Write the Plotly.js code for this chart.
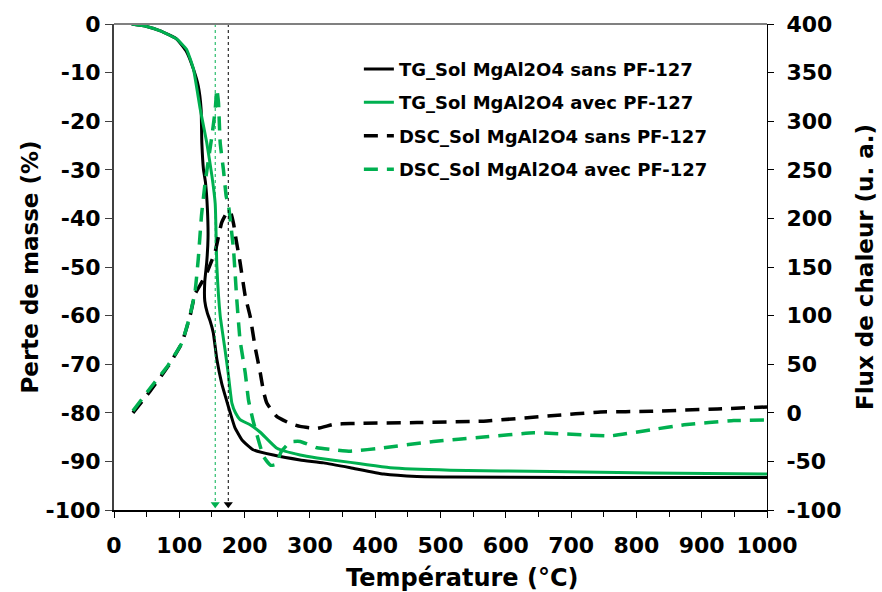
<!DOCTYPE html>
<html>
<head>
<meta charset="utf-8">
<script src="https://cdn.plot.ly/plotly-3.0.1.min.js"></script>
<style>html,body{margin:0;padding:0;background:#fff;}#chart{width:882px;height:592px;}</style>
</head>
<body>
<div id="chart"></div>
<script>
// TG sans PF-127 (left axis, %)
const tgSansT = [27, 50, 71, 96, 111.5, 121.7, 129, 133.4, 134.5, 137, 140, 143, 144, 142, 139, 139, 143, 147, 152, 157.5, 165, 172, 178, 185, 196, 213, 244, 285, 321, 362, 413, 464, 515, 700, 1000];
const tgSansY = [0, -0.5, -1.4, -3.1, -5.8, -9.3, -12.7, -17.5, -24.4, -29.9, -32.5, -38, -44, -49, -53, -57, -59.5, -61, -63.5, -69, -74, -77.3, -80, -83, -85.6, -87.6, -88.7, -89.7, -90.3, -91.3, -92.6, -93.1, -93.2, -93.3, -93.3];
// TG avec PF-127 (left axis, %)
const tgAvecT = [27, 50, 71, 96, 111, 121.7, 132, 142, 150, 155, 157.5, 162.6, 170, 175, 180.5, 186, 193, 209, 224, 249.5, 285, 311, 362, 387.5, 423, 515, 669, 822, 1000];
const tgAvecY = [0, -0.5, -1.4, -3.1, -5.2, -9.3, -17.5, -24.4, -31.3, -37, -49.8, -60, -67, -72, -78, -80, -81.4, -82.5, -84, -87.3, -88.7, -89.3, -90.2, -90.7, -91.3, -91.8, -92.1, -92.4, -92.6];
// DSC sans PF-127 (right axis, u. a.)
const dscSansT = [29, 55, 83, 104, 116.6, 124, 135, 144, 155, 165, 172, 178, 183, 187, 193, 201, 208.6, 216, 224, 229, 234, 249.5, 270, 285, 311, 336, 362, 464, 566, 669, 745, 822, 924, 1000];
const dscSansY = [0, 22, 48, 72, 100, 122, 135, 147, 166, 196, 205, 207, 195, 178, 155, 120, 99, 68, 41, 22, 10, -4, -11, -14, -16, -12, -11, -10, -8.6, -3, 0.8, 1.5, 4, 6];
// DSC avec PF-127 (right axis, u. a.)
const dscAvecT = [29, 55, 83, 104, 116.6, 124, 129, 134, 139.6, 150, 155, 157.5, 160, 162.6, 167.6, 172, 175, 183, 188, 193, 201, 206, 213.7, 229, 240, 248, 256, 270, 285, 311, 336, 362, 413, 489, 566, 643, 720, 761, 822, 873, 949, 1000];
const dscAvecY = [2, 25, 49, 72, 101, 124, 158, 203, 237, 285, 312, 333, 319, 278, 250, 222, 215, 168, 117, 75, 41, 13, -10, -45, -54, -53, -40, -30, -29.5, -36, -38, -39.5, -36, -29.5, -25, -20.6, -22.7, -23.7, -17.5, -12.4, -8, -7.4];
// peak markers (temperature, °C)
const markerTemps = [155, 175];
const markerColors = ['#00B050', '#000000'];
const markerBase = [-100, -100];
const markerTop = [0, 0];
// tick labels
const leftTicks = [0, -10, -20, -30, -40, -50, -60, -70, -80, -90, -100];
const rightTicks = [400, 350, 300, 250, 200, 150, 100, 50, 0, -50, -100];

const names = ['TG_Sol MgAl2O4 sans PF-127', 'TG_Sol MgAl2O4 avec PF-127', 'DSC_Sol MgAl2O4 sans PF-127', 'DSC_Sol MgAl2O4 avec PF-127'];
const GREEN = '#00B050';
const FONT = 'DejaVu Sans, Verdana, sans-serif';

const traces = [
  {x: tgSansT, y: tgSansY, name: names[0], legendgroup: 'a', mode: 'lines', line: {color: '#000', width: 3, shape: 'spline', smoothing: 0.4}},
  {x: tgAvecT, y: tgAvecY, name: names[1], legendgroup: 'b', mode: 'lines', line: {color: GREEN, width: 3, shape: 'spline', smoothing: 0.4}},
  {x: dscSansT, y: dscSansY, name: names[2], legendgroup: 'c', yaxis: 'y2', mode: 'lines', line: {color: '#000', width: 3.5, dash: '14px,9px', shape: 'spline', smoothing: 0.4}},
  {x: dscAvecT, y: dscAvecY, name: names[3], legendgroup: 'd', yaxis: 'y2', mode: 'lines', line: {color: GREEN, width: 3.5, dash: '14px,9px', shape: 'spline', smoothing: 0.4}},
  {x: markerTemps, y: markerBase.map(v => v + 1.2), mode: 'markers', showlegend: false, hoverinfo: 'skip',
   marker: {symbol: 'triangle-down', size: 8, color: markerColors}}
];

const shapes = markerTemps.map((t, i) => ({
  type: 'line', xref: 'x', yref: 'y', x0: t, x1: t, y0: markerTop[i], y1: markerBase[i],
  line: {color: markerColors[i], width: 1, dash: 'dot'}
}));
shapes.push({type: 'line', xref: 'paper', yref: 'paper', x0: 0, x1: 1, y0: 1, y1: 1, line: {color: '#808080', width: 2}});

const tickFont = {family: FONT, size: 22, color: '#000', weight: 'bold'};
const titleFont = {family: FONT, size: 23, color: '#000', weight: 'bold'};

const layout = {
  width: 882, height: 592,
  margin: {l: 114, r: 115, t: 24, b: 82},
  paper_bgcolor: '#fff', plot_bgcolor: '#fff',
  showlegend: true,
  legend: {x: 0.375, y: 0.945, xanchor: 'left', yanchor: 'top', bgcolor: 'rgba(0,0,0,0)',
           traceorder: 'grouped', tracegroupgap: 7,
           font: {family: FONT, size: 18, color: '#000', weight: 'bold'}, itemwidth: 30},
  xaxis: {range: [0, 1000], dtick: 100, tick0: 0, showgrid: false, zeroline: false,
          showline: true, linecolor: '#000', linewidth: 1.5,
          ticks: 'outside', ticklen: 6, tickcolor: '#000', tickwidth: 1,
          minor: {dtick: 50, ticks: 'outside', ticklen: 5, tickcolor: '#000', showgrid: false},
          tickfont: tickFont, ticklabelstandoff: 9},
  yaxis: {range: [-100, 0], tickvals: leftTicks, ticktext: leftTicks.map(String), showgrid: false, zeroline: false,
          showline: true, linecolor: '#404040', linewidth: 2,
          ticks: 'outside', ticklen: 7, tickcolor: '#404040',
          tickfont: tickFont,
          title: {text: 'Perte de masse (%)', font: titleFont, standoff: 0}},
  yaxis2: {range: [-100, 400], tickvals: rightTicks, ticktext: rightTicks.map(String), overlaying: 'y', side: 'right', showgrid: false, zeroline: false,
           showline: true, linecolor: '#000', linewidth: 1,
           ticks: 'outside', ticklen: 6, tickcolor: '#000',
           tickfont: tickFont, ticklabelstandoff: 8,
           title: {text: 'Flux de chaleur (u. a.)', font: titleFont, standoff: 16}},
  annotations: [{text: 'Température (°C)', xref: 'paper', yref: 'paper', x: 0.534, y: -0.14,
                 xanchor: 'center', yanchor: 'middle', showarrow: false,
                 font: {family: FONT, size: 24, color: '#000', weight: 'bold'}}],
  shapes: shapes
};

Plotly.newPlot('chart', traces, layout, {displayModeBar: false, staticPlot: true});
</script>
</body>
</html>
